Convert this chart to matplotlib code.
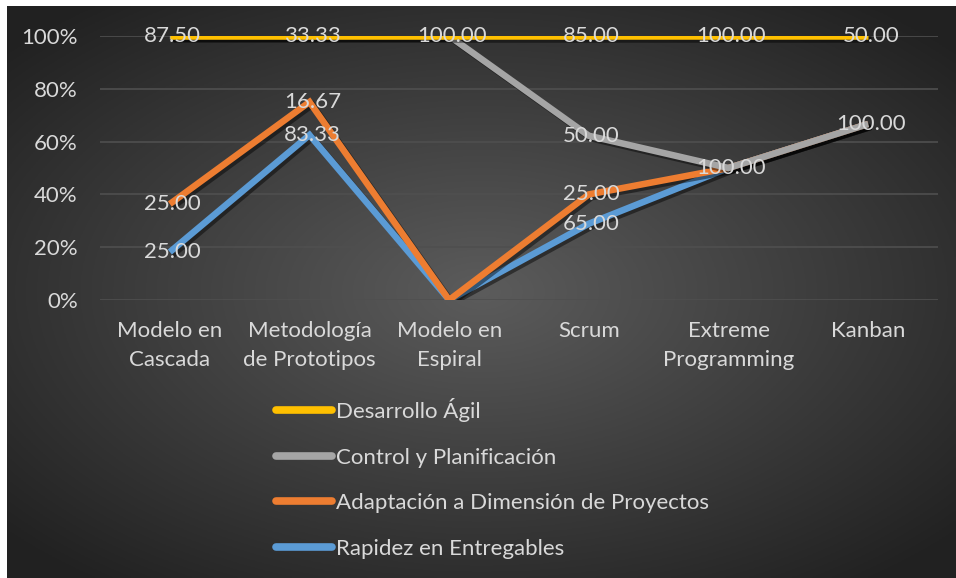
import numpy as np
import matplotlib
matplotlib.use("Agg")
import matplotlib.pyplot as plt
import matplotlib.patheffects as pe
from matplotlib.lines import Line2D

# Data (100% stacked line chart, labels show the raw values)
categories = ["Modelo en\nCascada", "Metodología\nde Prototipos", "Modelo en\nEspiral",
              "Scrum", "Extreme\nProgramming", "Kanban"]
rapidez = [25.00, 83.33, 0, 65.00, 100.00, 100.00]
adaptacion = [25.00, 16.67, 0, 25.00, 0, 0]
control = [87.50, 33.33, 100.00, 50.00, 0, 0]
agil = [0, 0, 0, 85.00, 100.00, 50.00]

series_names = ["Rapidez en Entregables", "Adaptación a Dimensión de Proyectos",
                "Control y Planificación", "Desarrollo Ágil"]
series_values = [rapidez, adaptacion, control, agil]
series_colors = ["#5b9bd5", "#ed7d31", "#a5a5a5", "#ffc000"]

FONT = ["Lato", "DejaVu Sans"]
TXT = "#d9d9d9"
FS = 16
plt.rcParams["font.family"] = FONT

W, H = 956, 578
fig = plt.figure(figsize=(W / 100, H / 100), dpi=100)
fig.patch.set_facecolor("white")

# radial gradient background (dark chart area)
bg = fig.add_axes([7 / W, 0, (W - 7) / W, (H - 6) / H])
gx, gy = np.meshgrid(np.linspace(-1, 1, 400), np.linspace(-1, 1, 250))
r = np.clip(np.sqrt(gx ** 2 + (gy * 1.05) ** 2) / 1.35, 0, 1)
shade = 0.36 - 0.23 * r
img = np.dstack([shade, shade, shade])
bg.imshow(img, aspect="auto", extent=[0, 1, 0, 1])
bg.set_axis_off()

ax = fig.add_axes([100 / W, (H - 300) / H, 838 / W, 264 / H])
ax.set_facecolor("none")

x = np.arange(len(categories))
vals = np.array(series_values, dtype=float)
totals = vals.sum(axis=0)
cum = np.cumsum(vals, axis=0) / totals

shadow = [pe.SimpleLineShadow(offset=(2, -2), shadow_color="black", alpha=0.45),
          pe.Normal()]
for i, (name, color) in enumerate(zip(series_names, series_colors)):
    ax.plot(x, cum[i], color=color, lw=4.7, solid_capstyle="butt",
            solid_joinstyle="miter", zorder=3 + i, path_effects=shadow, label=name)

for i in range(len(series_names)):
    for j in range(len(categories)):
        v = vals[i, j]
        if v == 0:
            continue
        ax.text(x[j] + 0.02, cum[i, j], f"{v:.2f}", ha="center", va="center",
                fontsize=FS, color=TXT, zorder=10)

ax.set_xlim(-0.5, len(categories) - 0.5)
ax.set_ylim(0, 1)
ticks = np.arange(0, 1.01, 0.2)
ax.set_yticks(ticks)
ax.set_yticklabels([f"{int(round(t * 100))}%" for t in ticks])
ax.set_xticks(x)
ax.set_xticklabels(categories, linespacing=1.55)
ax.tick_params(axis="both", length=0, colors=TXT, labelsize=FS)
ax.tick_params(axis="x", pad=15)
ax.tick_params(axis="y", pad=16)
ax.grid(axis="y", color="#4f4f4f", lw=1.2)
ax.set_axisbelow(True)
for s in ax.spines.values():
    s.set_visible(False)

# legend: Desarrollo Ágil first
leg_handles = [Line2D([0], [0], color=c, lw=5.5, solid_capstyle="round")
               for c in series_colors[::-1]]
fig.legend(leg_handles, series_names[::-1], loc="upper left",
           bbox_to_anchor=(276 / W, (H - 398) / H), frameon=False,
           fontsize=FS, labelcolor=TXT, handlelength=2.5, handletextpad=0.2,
           labelspacing=1.15, borderpad=0, borderaxespad=0)

fig.savefig("out.png", dpi=100)
plt.close(fig)
